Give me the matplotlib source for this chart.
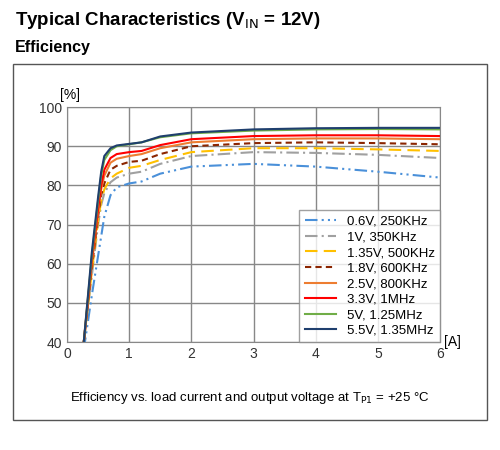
import matplotlib
matplotlib.use("Agg")
import matplotlib.pyplot as plt
from matplotlib.patches import Rectangle

plt.rcParams['font.family'] = ['Liberation Sans', 'DejaVu Sans']

x = [0.27, 0.4, 0.5, 0.55, 0.6, 0.7, 0.8, 1.0, 1.2, 1.5, 2.0, 3.0, 4.0, 5.0, 6.0]
labels = ["0.6V, 250KHz", "1V, 350KHz", "1.35V, 500KHz", "1.8V, 600KHz",
          "2.5V, 800KHz", "3.3V, 1MHz", "5V, 1.25MHz", "5.5V, 1.35MHz"]
v06 = [38, 52, 62, 67, 72, 77.5, 79.5, 80.5, 81, 83, 84.8, 85.5, 84.8, 83.5, 82]
v10 = [40, 57, 70, 75, 78, 80.8, 82, 83, 83.5, 85.5, 87.5, 88.5, 88.3, 87.8, 87]
v135 = [40, 58, 71, 76, 79, 81.8, 83, 84.5, 85, 86.5, 88.5, 89.5, 89.5, 89.2, 88.8]
v18 = [40, 59, 72, 77.5, 80.5, 84, 85, 86, 86.3, 88, 90, 90.8, 91, 90.8, 90.5]
v25 = [40, 60, 73, 79, 82.5, 85.8, 86.8, 87.5, 88, 89.5, 91, 91.8, 92, 92, 91.8]
v33 = [40, 61, 74, 80, 84, 87, 88, 88.5, 88.8, 90.3, 91.8, 92.6, 92.8, 92.8, 92.6]
v50 = [40, 62, 76, 82.5, 86.5, 89, 90, 90.5, 91, 92.3, 93.3, 94, 94.3, 94.4, 94.3]
v55 = [40, 63, 77, 83.5, 87.5, 89.5, 90.2, 90.6, 91, 92.5, 93.5, 94.3, 94.6, 94.7, 94.7]
series = [v06, v10, v135, v18, v25, v33, v50, v55]
colors = ["#4a90d9", "#a0a0a0", "#ffc000", "#8b2500", "#ed7d31", "#ff0000", "#70ad47", "#1f3f6e"]
styles = [(0, (6, 2, 1, 2, 1, 2)), (0, (6, 2, 1, 2)), (0, (6, 3)), (0, (3, 2)),
          "-", "-", "-", "-"]

fig = plt.figure(figsize=(5, 4.5), dpi=100)
fig.text(0.03, 0.955, "Typical Characteristics (V$_{\\mathrm{IN}}$ = 12V)", fontsize=13.5,
         fontweight="bold", va="center")
fig.text(0.03, 0.895, "Efficiency", fontsize=11.5, fontweight="bold", va="center")
fig.patches.append(Rectangle((0.026, 0.067), 0.948, 0.79, transform=fig.transFigure,
                             fill=False, edgecolor="#555555", lw=1))
ax = fig.add_axes([0.134, 0.24, 0.746, 0.522])
for s, c, ls, lab in zip(series, colors, styles, labels):
    ax.plot(x, s, color=c, ls=ls, lw=1.5, label=lab)
ax.set_xlim(0, 6)
ax.set_ylim(40, 100)
ax.set_xticks(range(7))
ax.set_yticks(range(40, 101, 10))
ax.grid(True, color="#888888", lw=1)
for sp in ax.spines.values():
    sp.set_color("#888888")
ax.tick_params(length=0, labelsize=10, colors="#333333")
ax.text(-0.02, 1.02, "[%]", transform=ax.transAxes, fontsize=10, ha="left", va="bottom")
ax.text(1.01, 0.0, "[A]", transform=ax.transAxes, fontsize=10, ha="left", va="center")
leg = ax.legend(loc="lower right", fontsize=9.5, frameon=True, fancybox=False,
                edgecolor="#888888", borderaxespad=0.0, handlelength=2.4,
                labelspacing=0.25, borderpad=0.4)
fig.text(0.5, 0.11, "Efficiency vs. load current and output voltage at T$_{\\mathrm{P1}}$ = +25 \u00b0C",
         ha="center", fontsize=9.5)
fig.savefig("out.png", dpi=100)
